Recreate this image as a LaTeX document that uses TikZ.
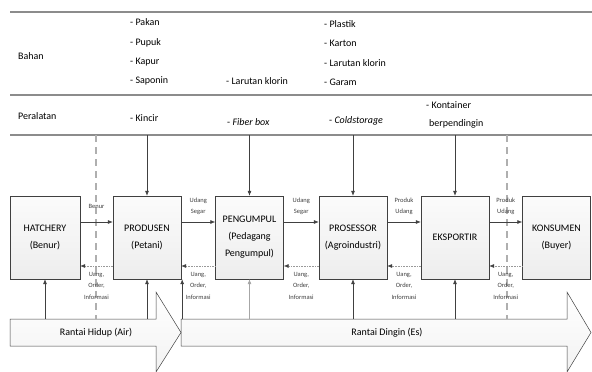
\documentclass[tikz,border=0pt]{standalone}
\usepackage{fontspec}
\setmainfont{Carlito}
\usetikzlibrary{arrows.meta, positioning, calc}

\definecolor{linegray}{HTML}{8C8C8C}
\definecolor{boxline}{HTML}{404040}

\begin{document}
\begin{tikzpicture}[x=1pt, y=-1pt, font=\fontsize{10}{17}\selectfont,
    >={Latex[length=5pt,width=4pt]},
    actor/.style={draw=boxline, top color=gray!3, bottom color=gray!14, minimum width=68pt, minimum height=83pt, align=center, inner sep=1pt},
    flow/.style={->, draw=boxline, line width=0.6pt},
    back/.style={-{Latex[length=5pt,width=4pt,color=boxline]}, draw=gray!80, densely dotted, line width=0.6pt},
    lbl/.style={font=\fontsize{6.5}{11.5}\selectfont, align=center, text=boxline, inner sep=1pt},
    item/.style={anchor=west, align=left, inner sep=0pt, font=\fontsize{10}{19.3}\selectfont},
    sep/.style={draw=linegray, line width=1.2pt},
    border/.style={draw=linegray!70, dash pattern=on 7pt off 5pt, line width=1.2pt},
    chain/.style={draw=boxline, top color=white, bottom color=gray!10, line width=0.5pt}]
    \useasboundingbox (0,0) rectangle (592,372);

    % rows Bahan / Peralatan
    \draw[sep] (10,12) -- (592,12);
    \draw[sep] (10,95) -- (592,95);
    \draw[sep] (10,135) -- (592,135);
    \coordinate (alat) at (0,135);
    \node[item] (bahan) at (18,56) {Bahan};
    \node[item] (peralatan) at (18,116) {Peralatan};

    \node[item] (bahanprod) at (130,52) {- Pakan\\- Pupuk\\- Kapur\\- Saponin};
    \node[item] (alatprod) at (130,118) {- Kincir};
    \node[item] (bahanpeng) at (226,81) {- Larutan klorin};
    \node[item] (alatpeng) at (227,122) {- \textit{Fiber box}};
    \node[item] (bahanpros) at (324,53) {- Plastik\\- Karton\\- Larutan klorin\\- Garam};
    \node[item] (alatpros) at (329,121) {- \textit{Coldstorage}};
    \node[item, font=\fontsize{10}{18}\selectfont] (alateks) at (426,115) {- Kontainer\\\hspace{3pt}berpendingin};

    % chains
    \draw[chain] (181,319) -- (567,319) -- (567,292) -- (591,332.5) -- (567,372) -- (567,346) -- (181,346) -- cycle;
    \draw[chain] (10,319) -- (156,319) -- (156,292) -- (181,332.5) -- (156,372) -- (156,346) -- (10,346) -- cycle;
    \coordinate (chaintop) at (0,319);
    \node (hidup) at (96,333) {Rantai Hidup (Air)};
    \node (dingin) at (387,333) {Rantai Dingin (Es)};

    \draw[border] (96,135) -- (96,319);
    \draw[border] (507,135) -- (507,319);

    % actors
    \node[actor, minimum width=70pt] (hatch) at (45,237.5) {HATCHERY\\(Benur)};
    \node[actor] (produsen) at (147,237.5) {PRODUSEN\\(Petani)};
    \node[actor] (pengumpul) at (249.5,237.5) {PENGUMPUL\\(Pedagang\\Pengumpul)};
    \node[actor] (prosessor) at (353,237.5) {PROSESSOR\\(Agroindustri)};
    \node[actor] (eksportir) at (455,237.5) {EKSPORTIR};
    \node[actor] (konsumen) at (556.5,237.5) {KONSUMEN\\(Buyer)};

    \draw[flow] (produsen.north |- alat) -- (produsen.north);
    \draw[flow] (pengumpul.north |- alat) -- (pengumpul.north);
    \draw[flow] (prosessor.north |- alat) -- (prosessor.north);
    \draw[flow] (eksportir.north |- alat) -- (eksportir.north);

    \draw[flow] ([yshift=15.5pt]hatch.east) -- ([yshift=15.5pt]produsen.west) node[lbl, midway, above=12pt] {Benur};
    \draw[flow] ([yshift=15.5pt]produsen.east) -- ([yshift=15.5pt]pengumpul.west) node[lbl, midway, above=6pt] {Udang\\Segar};
    \draw[flow] ([yshift=15.5pt]pengumpul.east) -- ([yshift=15.5pt]prosessor.west) node[lbl, midway, above=6pt] {Udang\\Segar};
    \draw[flow] ([yshift=15.5pt]prosessor.east) -- ([yshift=15.5pt]eksportir.west) node[lbl, midway, above=6pt] {Produk\\Udang};
    \draw[flow] ([yshift=15.5pt]eksportir.east) -- ([yshift=15.5pt]konsumen.west) node[lbl, midway, above=6pt] {Produk\\Udang};

    \draw[back] ([yshift=-28.5pt]produsen.west) -- ([yshift=-28.5pt]hatch.east) node[lbl, midway, below=5pt] {Uang,\\Order,\\Informasi};
    \draw[back] ([yshift=-28.5pt]pengumpul.west) -- ([yshift=-28.5pt]produsen.east) node[lbl, midway, below=5pt] {Uang,\\Order,\\Informasi};
    \draw[back] ([yshift=-28.5pt]prosessor.west) -- ([yshift=-28.5pt]pengumpul.east) node[lbl, midway, below=5pt] {Uang,\\Order,\\Informasi};
    \draw[back] ([yshift=-28.5pt]eksportir.west) -- ([yshift=-28.5pt]prosessor.east) node[lbl, midway, below=5pt] {Uang,\\Order,\\Informasi};
    \draw[back] ([yshift=-28.5pt]konsumen.west) -- ([yshift=-28.5pt]eksportir.east) node[lbl, midway, below=5pt] {Uang,\\Order,\\Informasi};

    \draw[flow] (hatch.south |- chaintop) -- (hatch.south);
    \draw[flow] (produsen.south |- chaintop) -- (produsen.south);
    \draw[flow] ([xshift=1pt]produsen.south east |- chaintop) -- ([xshift=1pt]produsen.south east);
    \draw[flow, draw=gray!70] (pengumpul.south |- chaintop) -- (pengumpul.south);
    \draw[flow] (prosessor.south |- chaintop) -- (prosessor.south);
    \draw[flow] (eksportir.south |- chaintop) -- (eksportir.south);
\end{tikzpicture}
\end{document}
